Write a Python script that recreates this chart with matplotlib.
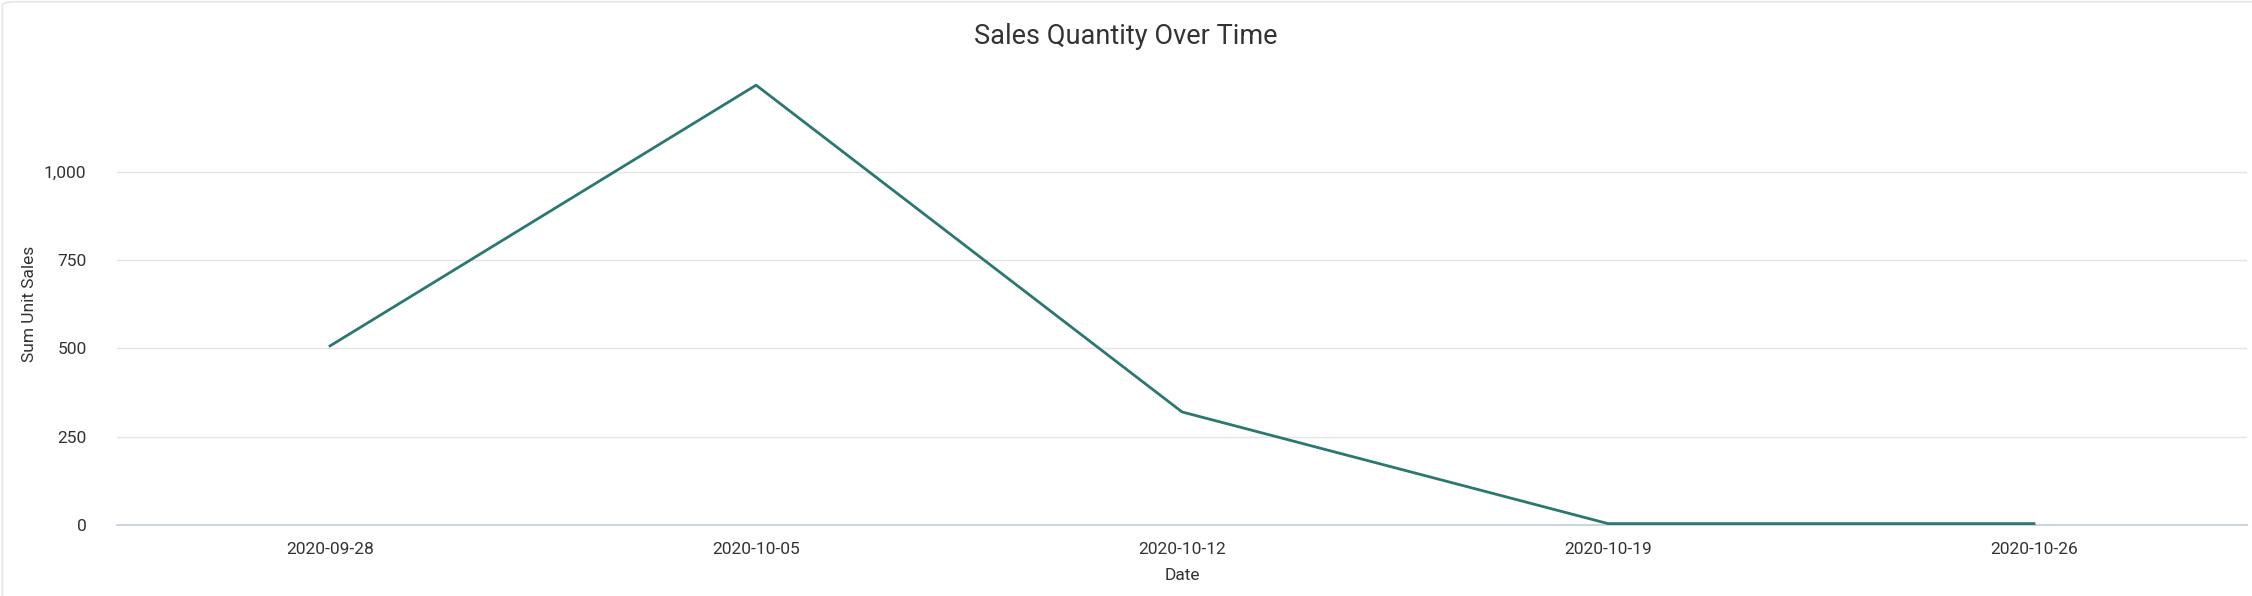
# plot.py
# Sales Quantity Over Time - weekly unit sales line chart

import pandas as pd
import matplotlib.pyplot as plt
import matplotlib.dates as mdates
from matplotlib.ticker import FuncFormatter
from matplotlib.patches import FancyBboxPatch

plt.rcParams["font.family"] = ["Roboto", "DejaVu Sans"]

# data
week_labels = ["2020-09-28", "2020-10-05", "2020-10-12", "2020-10-19", "2020-10-26"]
unit_sales  = [507, 1245, 320, 4, 4]
y_ticks     = [0, 250, 500, 750, 1000]

LINE_COLOR = "#2a7870"
TEXT_COLOR = "#333333"

dates = pd.to_datetime(week_labels)

fig = plt.figure(figsize=(22.52, 5.96), dpi=100)
fig.patch.set_facecolor("white")

# faint card outline (only left/top edges show in the reference)
card = FancyBboxPatch((0.001, -0.02), 1.05, 1.017, boxstyle="round,pad=0,rounding_size=0.006",
                      transform=fig.transFigure, facecolor="white", edgecolor="#e6e6e6",
                      linewidth=1.2, zorder=-10)
fig.patches.append(card)

ax = fig.add_axes([0.052, 0.1191, 0.9458, 0.741])
ax.set_facecolor("none")

ax.plot(dates, unit_sales, color=LINE_COLOR, linewidth=2.0, clip_on=False, zorder=3)

pad = pd.Timedelta(days=3.5)
ax.set_xlim(dates[0] - pad, dates[-1] + pad)
ax.set_ylim(0, 1250)

ax.set_xticks(dates)
ax.xaxis.set_major_formatter(mdates.DateFormatter("%Y-%m-%d"))
ax.set_yticks(y_ticks)
ax.yaxis.set_major_formatter(FuncFormatter(lambda v, _: f"{int(v):,}"))

ax.tick_params(axis="both", length=0, labelsize=12.5, colors=TEXT_COLOR)
ax.tick_params(axis="y", pad=22)
ax.tick_params(axis="x", pad=12)

ax.grid(axis="y", color="#e4e4e4", linewidth=1.0)
ax.grid(axis="x", visible=False)
ax.set_axisbelow(True)

for side in ("top", "right", "left"):
    ax.spines[side].set_visible(False)
ax.spines["bottom"].set_color("#c8d0e2")
ax.spines["bottom"].set_linewidth(1.3)

ax.set_xlabel("Date", fontsize=12.5, color=TEXT_COLOR, labelpad=8)
ax.set_ylabel("Sum Unit Sales", fontsize=12.5, color=TEXT_COLOR)
ax.yaxis.set_label_coords(-0.0375, 0.5)

fig.text(0.5, 0.938, "Sales Quantity Over Time", ha="center", va="center",
         fontsize=19.5, color=TEXT_COLOR)

fig.savefig("out.png", dpi=100)
plt.close(fig)
